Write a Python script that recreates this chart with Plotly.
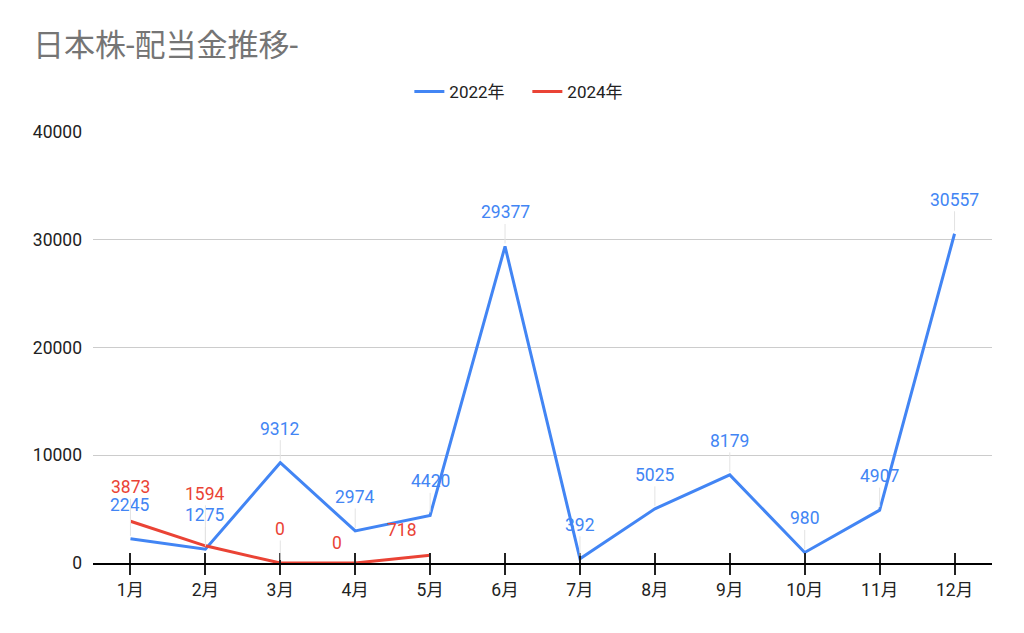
import plotly.graph_objects as go

months = ["1月", "2月", "3月", "4月", "5月", "6月", "7月", "8月", "9月", "10月", "11月", "12月"]
series_2022 = [2245, 1275, 9312, 2974, 4420, 29377, 392, 5025, 8179, 980, 4907, 30557]
months_2024 = ["1月", "2月", "3月", "4月", "5月"]
series_2024 = [3873, 1594, 0, 0, 718]
y_ticks = [0, 10000, 20000, 30000, 40000]

BLUE = "#4285F4"
RED = "#EA4335"
FONT = "Roboto, 'Noto Sans CJK JP', sans-serif"

# label offsets (pixels) used to avoid overlaps, keyed by (series, month)
label_offsets = {
    ("2024", "2月"): (0, -52),
    ("2024", "4月"): (-18, -20),
    ("2024", "5月"): (-28, -25),
}

fig = go.Figure()
fig.add_trace(go.Scatter(x=months, y=series_2022, mode="lines", name="2022年",
                         line=dict(color=BLUE, width=3), hoverinfo="x+y"))
fig.add_trace(go.Scatter(x=months_2024, y=series_2024, mode="lines", name="2024年",
                         line=dict(color=RED, width=3), hoverinfo="x+y"))
# helper trace for the inside half of the crossing tick marks
fig.add_trace(go.Scatter(x=months, y=[None] * len(months), xaxis="x2", yaxis="y",
                         showlegend=False, hoverinfo="skip", mode="lines"))

annotations = []
for name, xs, ys, col in [("2022", months, series_2022, BLUE), ("2024", months_2024, series_2024, RED)]:
    for m, v in zip(xs, ys):
        ax, ay = label_offsets.get((name, m), (0, -34))
        shifted = (name, m) in label_offsets and ax != 0
        annotations.append(dict(
            x=m, y=v, xref="x", yref="y", text=str(v),
            showarrow=True, arrowhead=0, arrowwidth=1,
            arrowcolor="rgba(0,0,0,0)" if shifted else "#e3e3e3",
            ax=ax, ay=ay, standoff=3,
            font=dict(family=FONT, size=17.5, color=col),
            xanchor="center", yanchor="middle",
        ))

xrange = [-0.5, len(months) - 0.5]

fig.update_layout(
    width=1024, height=633,
    margin=dict(l=93, r=32, t=132, b=70),
    paper_bgcolor="white", plot_bgcolor="white",
    title=dict(text="日本株-配当金推移-", x=33 / 1024, xanchor="left", y=1 - 45 / 633, yanchor="middle",
               font=dict(family=FONT, size=31, color="#757575")),
    legend=dict(orientation="h", xref="container", x=0.515, xanchor="center",
                y=1 - 92 / 633, yref="container", yanchor="middle", entrywidth=73,
                font=dict(family=FONT, size=17, color="#222222")),
    showlegend=True,
    xaxis=dict(categoryorder="array", categoryarray=months, range=xrange, showgrid=False,
               showline=True, linecolor="#000000", linewidth=1.5,
               ticks="outside", ticklen=10, tickcolor="#222222", tickwidth=1.5,
               tickfont=dict(family=FONT, size=17.5, color="#222222"), fixedrange=True),
    xaxis2=dict(overlaying="x", matches="x", anchor="y", showgrid=False, showline=False,
                ticks="inside", ticklen=10, tickcolor="#222222", tickwidth=1.5,
                showticklabels=False, categoryorder="array", categoryarray=months, range=xrange),
    yaxis=dict(range=[0, 40000], tickvals=y_ticks, tickformat="d", showgrid=True, gridcolor="#cccccc", gridwidth=1,
               zeroline=True, zerolinecolor="#000000", zerolinewidth=1.5,
               tickfont=dict(family=FONT, size=17.5, color="#222222"), ticks="", ticklabelstandoff=10,
               fixedrange=True),
    annotations=annotations,
    font=dict(family=FONT),
)

fig.write_html("out.html")
